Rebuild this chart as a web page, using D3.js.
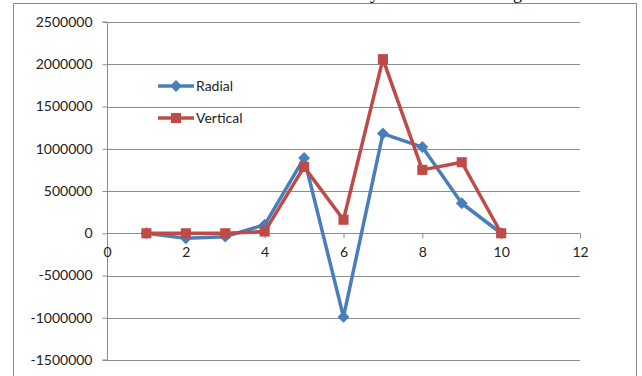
<!DOCTYPE html>
<html>
<head>
<meta charset="utf-8">
<script src="https://cdn.jsdelivr.net/npm/d3@7"></script>
<style>
  html, body { margin: 0; padding: 0; background: #ffffff; }
  svg { display: block; }
  text { font-family: Lato, "Open Sans", sans-serif; }
</style>
</head>
<body>
<svg id="chart" width="642" height="376"></svg>
<script>
// Sample index along the x axis
const xValues = [1, 2, 3, 4, 5, 6, 7, 8, 9, 10];
// Series values
const radial   = [0, -60000, -40000, 100000, 890000, -990000, 1180000, 1020000, 355000, 0];
const vertical = [0, 0, 0, 20000, 785000, 160000, 2060000, 750000, 840000, 0];
// Axis ticks
const xTicks = [0, 2, 4, 6, 8, 10, 12];
const yTicks = [-1500000, -1000000, -500000, 0, 500000, 1000000, 1500000, 2000000, 2500000];
const seriesNames = ["Radial", "Vertical"];
const seriesColors = ["#4A7EBB", "#BE4B48"];

const svg = d3.select("#chart");
const gridColor = "#8C8C8C";
const plainNumber = d => String(d);

// Outer chart frame
svg.append("rect")
  .attr("x", 13.5).attr("y", 3.5)
  .attr("width", 623).attr("height", 400)
  .attr("fill", "#fff").attr("stroke", "#8A8A8A").attr("stroke-width", 1);

// Descenders of the heading set above the frame
svg.append("text").attr("x", 370).attr("y", -1)
  .style("font-family", "'Liberation Serif', serif").style("font-size", "18px")
  .attr("fill", "#000").text("y");
svg.append("text").attr("x", 513).attr("y", -1)
  .style("font-family", "'Liberation Serif', serif").style("font-size", "18px")
  .attr("fill", "#000").text("g");

const x = d3.scaleLinear().domain([0, 12]).range([107, 580]);
const y = d3.scaleLinear().domain([-1500000, 2500000]).range([360, 22]);

// Horizontal gridlines
svg.append("g").selectAll("line").data(yTicks).join("line")
  .attr("x1", x(0)).attr("x2", x(12))
  .attr("y1", d => Math.round(y(d)) + 0.5).attr("y2", d => Math.round(y(d)) + 0.5)
  .attr("stroke", gridColor).attr("stroke-width", 1);

// Y axis
const yAxis = svg.append("g")
  .attr("transform", `translate(${x(0) + 0.5},0)`)
  .call(d3.axisLeft(y).tickValues(yTicks).tickSize(5).tickPadding(10).tickFormat(plainNumber));
yAxis.select(".domain").attr("stroke", gridColor).attr("d", `M-5,${y(2500000)}H0V${y(-1500000)}H-5`);
yAxis.selectAll(".tick line").attr("stroke", gridColor);
yAxis.selectAll(".tick text").attr("fill", "#222").style("font-size", "14px").style("font-family", "Lato, sans-serif");

// X axis on the zero line
const xAxis = svg.append("g")
  .attr("transform", `translate(0,${Math.round(y(0)) + 0.5})`)
  .call(d3.axisBottom(x).tickValues(xTicks).tickSize(5).tickPadding(9).tickFormat(plainNumber));
xAxis.select(".domain").attr("stroke", gridColor).attr("d", `M${x(0)},0H${x(12)}`);
xAxis.selectAll(".tick line").attr("stroke", gridColor);
xAxis.selectAll(".tick text").attr("fill", "#222").style("font-size", "14px").style("font-family", "Lato, sans-serif");

const line = d3.line().x(d => x(d[0])).y(d => y(d[1]));
const diamond = d3.symbol().type(d3.symbolDiamond2).size(90);
const square = d3.symbol().type(d3.symbolSquare2).size(130);

function drawSeries(values, color, sym) {
  const pts = xValues.map((v, i) => [v, values[i]]);
  svg.append("path").datum(pts)
    .attr("d", line).attr("fill", "none")
    .attr("stroke", color).attr("stroke-width", 3.5).attr("stroke-linejoin", "round");
  svg.append("g").selectAll("path").data(pts).join("path")
    .attr("transform", d => `translate(${x(d[0])},${y(d[1])})`)
    .attr("d", sym).attr("fill", color);
}
drawSeries(radial, seriesColors[0], diamond);
drawSeries(vertical, seriesColors[1], square);

// Legend
const legend = svg.append("g");
const legendY = [86, 118];
const legendSyms = [diamond, square];
seriesNames.forEach((name, i) => {
  const g = legend.append("g").attr("transform", `translate(0,${legendY[i]})`);
  g.append("line").attr("x1", 158).attr("x2", 194).attr("y1", 0).attr("y2", 0)
    .attr("stroke", seriesColors[i]).attr("stroke-width", 3.5);
  g.append("path").attr("transform", "translate(176,0)").attr("d", legendSyms[i]).attr("fill", seriesColors[i]);
  g.append("text").attr("x", 196).attr("y", 5)
    .style("font-size", "14px").attr("fill", "#222").text(name);
});
</script>
</body>
</html>
